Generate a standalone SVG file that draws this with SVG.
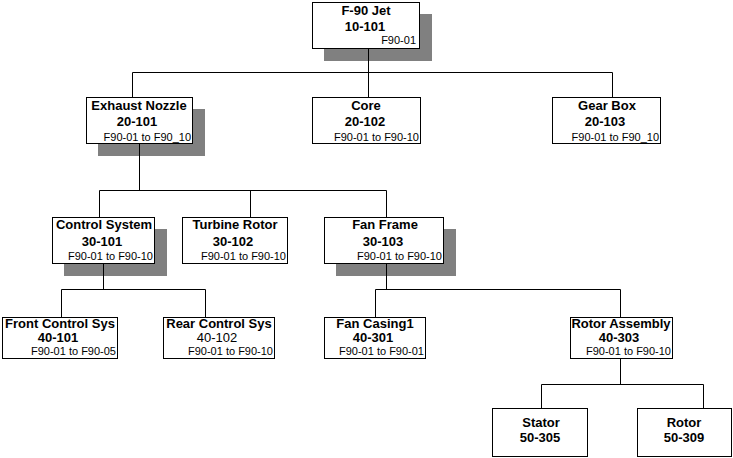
<svg xmlns="http://www.w3.org/2000/svg" width="733" height="458" viewBox="0 0 733 458">
<style>
.box{fill:#fff;stroke:#000;stroke-width:1}
.sh{fill:#808080}
.t{font-family:"Liberation Sans",Arial,sans-serif;font-size:13px;font-weight:bold;text-anchor:middle;fill:#000}
.c{font-family:"Liberation Sans",Arial,sans-serif;font-size:13px;font-weight:bold;text-anchor:middle;fill:#000}
.cn{font-family:"Liberation Sans",Arial,sans-serif;font-size:13px;text-anchor:middle;fill:#000}
.r{font-family:"Liberation Sans",Arial,sans-serif;font-size:11px;text-anchor:end;fill:#000}
.ln{fill:none;stroke:#000;stroke-width:1}
</style>
<rect width="733" height="458" fill="#fff"/>
<g id="shadows">
<rect class="sh" x="324" y="14" width="108" height="47"/>
<rect class="sh" x="98" y="109" width="107" height="47"/>
<rect class="sh" x="64" y="229" width="103" height="47"/>
<rect class="sh" x="336" y="229" width="120" height="47"/>
</g>
<g id="connectors">
<path class="ln" d="M368.5 49V72.5M132.5 72.5H612.5M132.5 72.5V97M368.5 72.5V97M612.5 72.5V97"/>
<path class="ln" d="M139.5 144V190.5M99.5 190.5H386.5M99.5 190.5V217M250.5 190.5V217M386.5 190.5V217"/>
<path class="ln" d="M103.5 264V289.5M61.5 289.5H205.5M61.5 289.5V317M205.5 289.5V317"/>
<path class="ln" d="M386.5 264V289.5M375.5 289.5H620.5M375.5 289.5V317M620.5 289.5V317"/>
<path class="ln" d="M620.5 359V384.5M541.5 384.5H703.5M541.5 384.5V408M703.5 384.5V408"/>
</g>
<g id="n-jet">
<rect class="box" x="312.5" y="2.5" width="107" height="46"/>
<text class="t" x="366" y="15">F-90 Jet</text>
<text class="c" x="365" y="31">10-101</text>
<text class="r" x="416" y="44">F90-01</text>
</g>
<g id="n-exhaust">
<rect class="box" x="86.5" y="97.5" width="106" height="46"/>
<text class="t" x="139" y="110">Exhaust Nozzle</text>
<text class="c" x="137" y="126">20-101</text>
<text class="r" x="191" y="141">F90-01 to F90_10</text>
</g>
<g id="n-core">
<rect class="box" x="312.5" y="97.5" width="108" height="46"/>
<text class="t" x="366" y="110">Core</text>
<text class="c" x="365" y="126">20-102</text>
<text class="r" x="419" y="141">F90-01 to F90-10</text>
</g>
<g id="n-gearbox">
<rect class="box" x="552.5" y="97.5" width="108" height="46"/>
<text class="t" x="607" y="110">Gear Box</text>
<text class="c" x="605" y="126">20-103</text>
<text class="r" x="659" y="141">F90-01 to F90_10</text>
</g>
<g id="n-control">
<rect class="box" x="52.5" y="217.5" width="102" height="46"/>
<text class="t" x="104" y="229">Control System</text>
<text class="c" x="102" y="246">30-101</text>
<text class="r" x="153" y="260">F90-01 to F90-10</text>
</g>
<g id="n-turbine">
<rect class="box" x="182.5" y="217.5" width="105" height="46"/>
<text class="t" x="235" y="229">Turbine Rotor</text>
<text class="c" x="233" y="246">30-102</text>
<text class="r" x="286" y="260">F90-01 to F90-10</text>
</g>
<g id="n-fanframe">
<rect class="box" x="324.5" y="217.5" width="119" height="46"/>
<text class="t" x="385" y="229">Fan Frame</text>
<text class="c" x="383" y="246">30-103</text>
<text class="r" x="442" y="260">F90-01 to F90-10</text>
</g>
<g id="n-front">
<rect class="box" x="2.5" y="317.5" width="115" height="41"/>
<text class="t" x="60" y="328">Front Control Sys</text>
<text class="c" x="58" y="342">40-101</text>
<text class="r" x="116" y="355">F90-01 to F90-05</text>
</g>
<g id="n-rear">
<rect class="box" x="163.5" y="317.5" width="111" height="41"/>
<text class="t" x="219" y="328">Rear Control Sys</text>
<text class="cn" x="217" y="342">40-102</text>
<text class="r" x="273" y="355">F90-01 to F90-10</text>
</g>
<g id="n-fancasing">
<rect class="box" x="324.5" y="317.5" width="101" height="41"/>
<text class="t" x="375" y="328">Fan Casing1</text>
<text class="c" x="373" y="342">40-301</text>
<text class="r" x="424" y="355">F90-01 to F90-01</text>
</g>
<g id="n-rotorasm">
<rect class="box" x="570.5" y="317.5" width="102" height="41"/>
<text class="t" x="621" y="328">Rotor Assembly</text>
<text class="c" x="619" y="342">40-303</text>
<text class="r" x="671" y="355">F90-01 to F90-10</text>
</g>
<g id="n-stator">
<rect class="box" x="492.5" y="408.5" width="95" height="48"/>
<text class="t" x="541" y="427">Stator</text>
<text class="c" x="540" y="442">50-305</text>
</g>
<g id="n-rotor">
<rect class="box" x="637.5" y="408.5" width="94" height="48"/>
<text class="t" x="684" y="427">Rotor</text>
<text class="c" x="684" y="442">50-309</text>
</g>
</svg>
